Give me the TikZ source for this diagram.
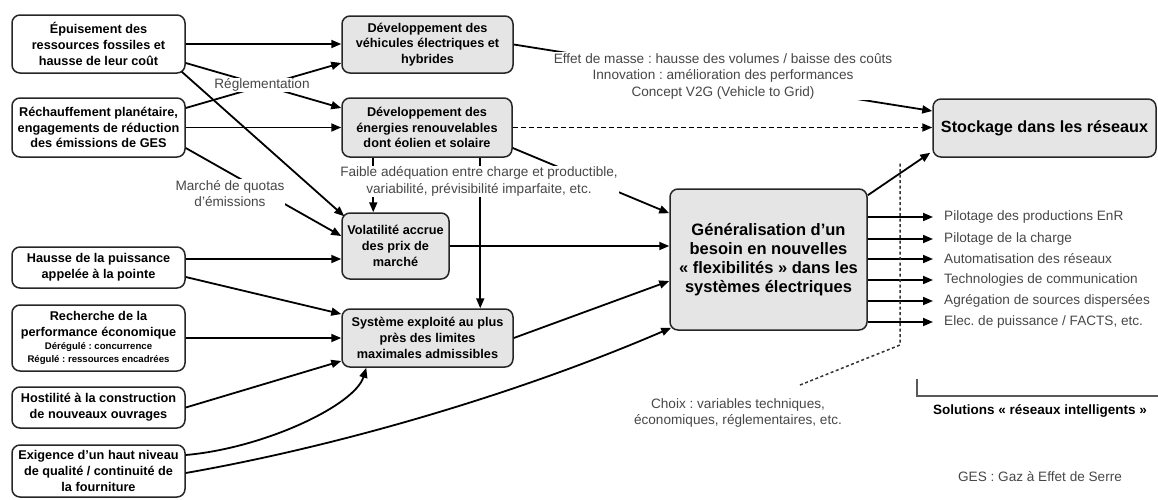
\documentclass[tikz,border=0pt]{standalone}
\usepackage{fontspec}
\setmainfont{Liberation Sans}
\usetikzlibrary{arrows.meta,calc}
\frenchspacing
\tikzset{
 box/.style={draw=black!85, line width=1.5pt, rounded corners=8pt, align=center,
   font=\fontsize{12.7}{15.8}\selectfont\bfseries, inner sep=2pt},
 wbox/.style={box, fill=white},
 gbox/.style={box, fill=black!10},
 conn/.style={line width=1.8pt, -{Triangle[length=10pt,width=8pt]}},
 ann/.style={font=\fontsize{13.6}{16.5}\selectfont, text=black!72, align=center, fill=white, inner sep=1pt},
 outtxt/.style={font=\fontsize{13.6}{16.5}\selectfont, text=black!72, anchor=west, inner sep=0pt},
 dotline/.style={line width=1.5pt, black!80, dash pattern=on 3pt off 2.5pt},
}
\begin{document}
\begin{tikzpicture}[x=1pt,y=-1pt]
\path[use as bounding box] (0,0) rectangle (1158,499);

% left column
\node[wbox, minimum width=173pt, minimum height=58pt] (A) at (98.5,44) {Épuisement des\\ressources fossiles et\\hausse de leur coût};
\node[wbox, minimum width=173pt, minimum height=59pt] (B) at (98.5,127.5) {Réchauffement planétaire,\\engagements de réduction\\des émissions de GES};
\node[wbox, minimum width=173pt, minimum height=41pt] (C) at (98.5,267.5) {Hausse de la puissance\\appelée à la pointe};
\node[wbox, minimum width=173pt, minimum height=66pt] (D) at (98.5,338) {Recherche de la\\performance économique\\[-3pt]{\fontsize{9.6}{12.5}\selectfont Dérégulé : concurrence}\\[-3pt]{\fontsize{9.6}{12.5}\selectfont Régulé : ressources encadrées}};
\node[wbox, minimum width=173pt, minimum height=41pt] (E) at (98.5,407.5) {Hostilité à la construction\\de nouveaux ouvrages};
\node[wbox, minimum width=173pt, minimum height=52pt] (F) at (98.5,471) {Exigence d’un haut niveau\\de qualité / continuité de\\la fourniture};

% middle column
\node[gbox, minimum width=171pt, minimum height=57pt] (G) at (427.5,44.5) {Développement des\\véhicules électriques et\\hybrides};
\node[gbox, minimum width=170pt, minimum height=59pt] (H) at (427,127.5) {Développement des\\énergies renouvelables\\dont éolien et solaire};
\node[gbox, minimum width=107pt, minimum height=66pt] (I) at (395.5,246) {Volatilité accrue\\des prix de\\marché};
\node[gbox, minimum width=171pt, minimum height=58pt] (J) at (427.5,338) {Système exploité au plus\\près des limites\\maximales admissibles};

% right
\node[gbox, minimum width=197pt, minimum height=141pt, font=\fontsize{16.5}{19.2}\selectfont\bfseries] (K) at (768.5,259.5) {Généralisation d’un\\besoin en nouvelles\\«~flexibilités~» dans les\\systèmes électriques};
\node[gbox, minimum width=223pt, minimum height=58pt, font=\fontsize{16.2}{19}\selectfont\bfseries] (L) at (1044.5,128) {Stockage dans les réseaux};

% connectors
\draw[conn] (A.east) -- (A.east -| G.west);
\draw[conn] ($(A.east)+(0,19)$) -- ($(H.west)+(0,-19.5)$);
\draw[conn] ($(B.east)+(0,-19.5)$) -- ($(G.west)+(0,18.5)$);
\draw[conn] ($(A.south east)+(-4,-2)$) -- ($(I.north west)+(3,4)$);
\draw[conn] (B.east) -- (B.east -| H.west);
\draw[conn] ($(B.east)+(0,20.5)$) -- ($(I.west)+(0,-10)$);
\draw[conn] ($(C.east)+(0,-8.5)$) -- ($(I.west)+(0,13)$);
\draw[conn] ($(C.east)+(0,9.5)$) -- ($(J.west)+(0,-24)$);
\draw[conn] (D.east) -- (D.east -| J.west);
\draw[conn] (E.east) -- ($(J.west)+(0,23)$);
\draw[conn] ($(F.east)+(0,-16)$) .. controls (265,448) and (355,405) .. ($(J.south west)+(25,0)$);
\draw[conn] ($(F.east)+(0,2)$) .. controls (345,445) and (522,392) .. ($(K.south west)+(2,-3)$);
\draw[conn] (I.east) -- (I.east -| K.west);
\draw[conn] (J.east) -- ($(K.west)+(0,21.5)$);
\draw[conn] ($(H.south west)+(32,0)$) -- ($(I.north west)+(32,0)$);
\draw[conn] ($(H.south west)+(139,0)$) -- ($(J.north west)+(139,0)$);
\draw[conn] ($(H.east)+(0,20.5)$) -- ($(K.north west)+(0,25)$);
\draw[conn] (G.east) -- ($(L.west)+(0,-17)$);
\draw[conn, dash pattern=on 5pt off 3pt] (H.east) -- (H.east -| L.west);
\draw[conn] ($(K.north east)+(0,7)$) -- ($(L.south west)+(-2,-5)$);

% outputs
\node[outtxt] (o1) at (944,217) {Pilotage des productions EnR};
\node[outtxt] (o2) at (944,239) {Pilotage de la charge};
\node[outtxt] (o3) at (944,259) {Automatisation des réseaux};
\node[outtxt] (o4) at (944,280) {Technologies de communication};
\node[outtxt] (o5) at (944,301) {Agrégation de sources dispersées};
\node[outtxt] (o6) at (944,322) {Elec. de puissance / FACTS, etc.};
\foreach \o in {o1,o2,o3,o4,o5,o6}
  \draw[conn] (K.east |- \o.west) -- ($(\o.west)+(-11,0)$);

% labels on lines
\node[ann] (regl) at (262,85) {Réglementation};
\node[ann] (quot) at (230,193.5) {Marché de quotas\\d’émissions};
\node[ann] (faib) at (479,181.5) {Faible adéquation entre charge et productible,\\variabilité, prévisibilité imparfaite, etc.};
\node[ann] (effet) at (723,76) {Effet de masse : hausse des volumes / baisse des coûts\\Innovation : amélioration des performances\\Concept V2G (Vehicle to Grid)};

% choix
\node[ann] (choix) at (738,413) {Choix : variables techniques,\\économiques, réglementaires, etc.};
\coordinate (c1) at (800,385);
\coordinate (c2) at (900,345);
\draw[dotline] (c1) -- (c2) -- ($(c2 |- L.south)+(0,5)$);

% bracket
\coordinate (b1) at (917,379);
\coordinate (b2) at (917,396);
\coordinate (b3) at (1158,396);
\draw[line width=1.2pt, black!65] (b1) -- (b2) -- (b3);
\node[font=\fontsize{13.5}{16}\selectfont\bfseries, inner sep=0pt] (sol) at (1040,411) {Solutions «~réseaux intelligents~»};
\node[font=\fontsize{13.6}{16}\selectfont, text=black!72, inner sep=0pt] (ges) at (1040,477) {GES : Gaz à Effet de Serre};
\end{tikzpicture}
\end{document}
